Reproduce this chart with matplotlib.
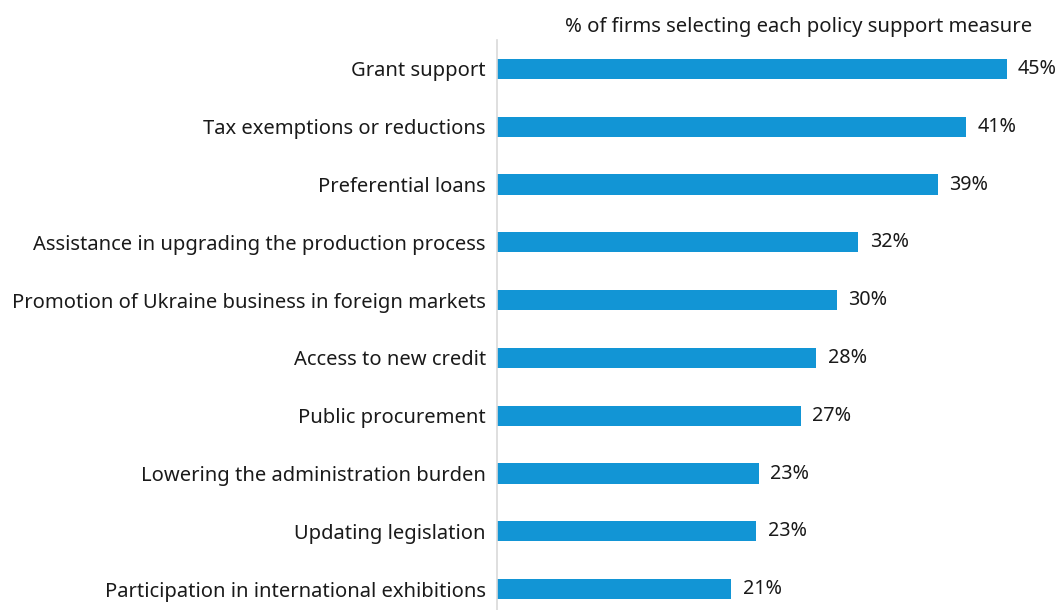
import matplotlib

matplotlib.use("Agg")
import matplotlib.pyplot as plt

measures = [
    "Grant support",
    "Tax exemptions or reductions",
    "Preferential loans",
    "Assistance in upgrading the production process",
    "Promotion of Ukraine business in foreign markets",
    "Access to new credit",
    "Public procurement",
    "Lowering the administration burden",
    "Updating legislation",
    "Participation in international exhibitions",
]
share = [45.0, 41.4, 38.9, 31.9, 30.0, 28.2, 26.8, 23.1, 22.9, 20.7]
title = "% of firms selecting each policy support measure"

plt.rcParams["font.family"] = ["Noto Sans", "DejaVu Sans"]

W, H = 1061, 610
fig = plt.figure(figsize=(W / 100, H / 100), dpi=100)
ax = fig.add_axes([497 / W, 0, 555 / W, 570 / H])

ypos = list(range(len(measures)))
ax.barh(ypos, share, height=0.35, color="#1295d5")
for y, v in zip(ypos, share):
    ax.text(v + 1.0, y, f"{v:.0f}%", va="center", ha="left", fontsize=14.2, color="#1a1a1a")

ax.set_xlim(0, 49)
ax.set_ylim(9.36, -0.5)
ax.set_yticks(ypos)
ax.set_yticklabels(measures, fontsize=14.5, color="#1a1a1a")
ax.tick_params(axis="y", length=0, pad=8)
ax.set_xticks([])
for side in ["top", "right", "bottom"]:
    ax.spines[side].set_visible(False)
ax.spines["left"].set_color("#d9d9d9")
ax.spines["left"].set_linewidth(1.2)

fig.text(799 / W, 1 - 27 / H, title, ha="center", va="center", fontsize=14.6, color="#1a1a1a")

fig.savefig("out.png", dpi=100)
